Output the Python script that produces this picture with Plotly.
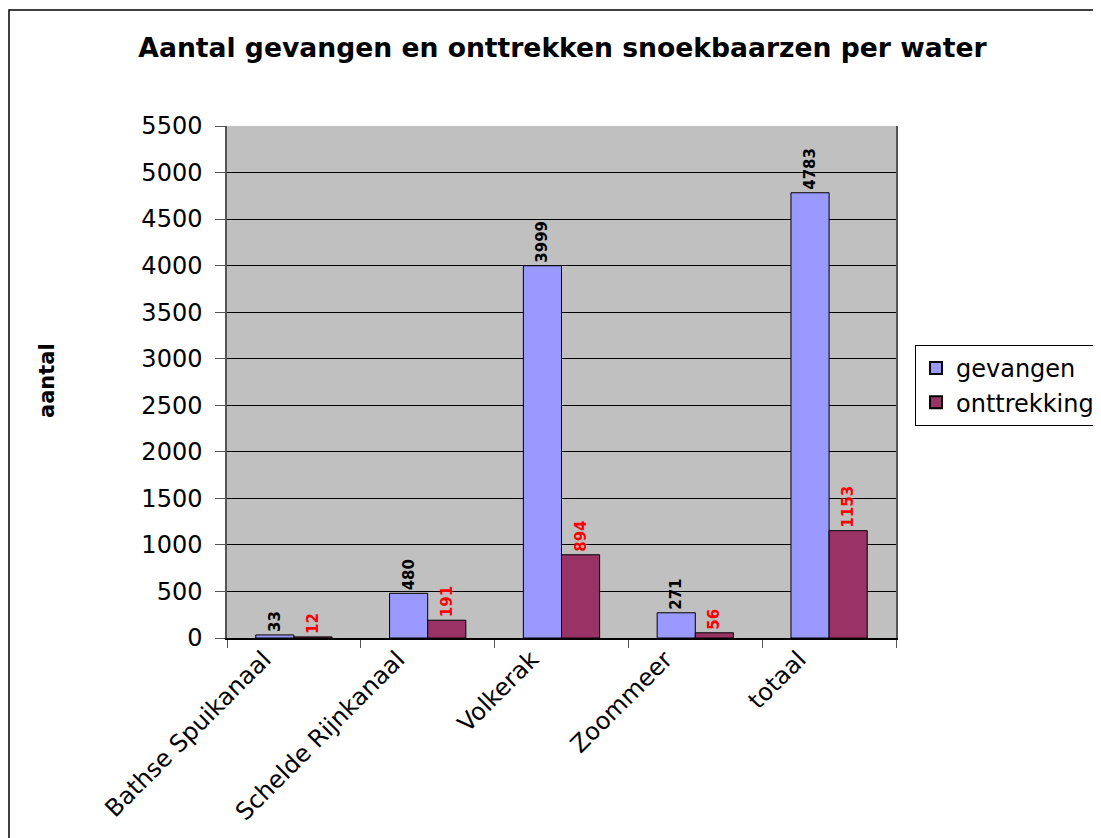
import plotly.graph_objects as go

categories = ["Bathse Spuikanaal", "Schelde Rijnkanaal", "Volkerak", "Zoommeer", "totaal"]
gevangen = [33, 480, 3999, 271, 4783]
onttrekking = [12, 191, 894, 56, 1153]

FONT = "DejaVu Sans"
OFF = 8  # page body margin
W, H = 1101 - OFF, 838 - OFF
L, R, T, B = 227 - OFF, 896 - OFF, 126 - OFF, 638 - OFF
pw, ph = R - L, B - T

fig = go.Figure()
fig.add_trace(go.Bar(
    x=categories, y=gevangen, name="gevangen",
    marker=dict(color="#9999FF", line=dict(color="black", width=1)),
    text=[str(v) for v in gevangen], texttemplate="<b>%{text}</b>",
    textposition="outside", textangle=-90, cliponaxis=False, constraintext="none",
    textfont=dict(family=FONT, size=15, color="black"),
))
fig.add_trace(go.Bar(
    x=categories, y=onttrekking, name="onttrekking",
    marker=dict(color="#993366", line=dict(color="black", width=1)),
    text=[str(v) for v in onttrekking], texttemplate="<b>%{text}</b>",
    textposition="outside", textangle=-90, cliponaxis=False, constraintext="none",
    textfont=dict(family=FONT, size=15, color="#FF0000"),
))

fig.update_layout(
    width=W, height=H,
    margin=dict(l=L, r=W - R, t=T, b=H - B, autoexpand=False),
    paper_bgcolor="white", plot_bgcolor="#C0C0C0",
    font=dict(family=FONT, color="black"),
    barmode="group", bargap=0.43, bargroupgap=0,
    title=dict(
        text="<b>Aantal gevangen en onttrekken snoekbaarzen per water</b>",
        font=dict(family=FONT, size=26.6, color="black"),
        xref="container", yref="container",
        x=(562.5 - OFF) / W, y=1 - (48 - OFF) / H, xanchor="center", yanchor="middle",
    ),
    legend=dict(
        x=(915 - OFF - L) / pw, y=(B - (345 - OFF)) / ph, xanchor="left", yanchor="top",
        bordercolor="black", borderwidth=1, bgcolor="white",
        font=dict(family=FONT, size=24, color="black"),
        tracegroupgap=0, itemsizing="constant",
    ),
    showlegend=True,
    shapes=[
        dict(type="rect", xref="paper", yref="paper",
             x0=(9 - OFF - L) / pw, x1=1.6, y0=-0.6, y1=(B - (10 - OFF)) / ph,
             line=dict(color="black", width=1.5), fillcolor="rgba(0,0,0,0)", layer="below"),
    ],
    annotations=[
        dict(text="<b>aantal</b>", xref="paper", yref="paper",
             x=(47 - OFF - L) / pw, y=(B - (381 - OFF)) / ph,
             xanchor="center", yanchor="middle", textangle=-90, showarrow=False,
             font=dict(family=FONT, size=21, color="black")),
    ],
)

fig.update_yaxes(
    range=[0, 5500], dtick=500, tick0=0,
    showgrid=True, gridcolor="black", gridwidth=1,
    zeroline=False,
    showline=True, linecolor="#555555", linewidth=1.5, mirror=True,
    ticks="outside", ticklen=10, tickcolor="#555555",
    ticklabelstandoff=8,
    tickfont=dict(family=FONT, size=24, color="black"),
)
fig.update_xaxes(
    showgrid=False, showline=True, linecolor="black", linewidth=1.5,
    ticks="outside", tickson="boundaries", ticklen=8, tickcolor="#555555",
    tickangle=-45, ticklabelshift=-30, ticklabelstandoff=-4,
    tickfont=dict(family=FONT, size=24, color="black"),
)

fig.write_html("out.html")
